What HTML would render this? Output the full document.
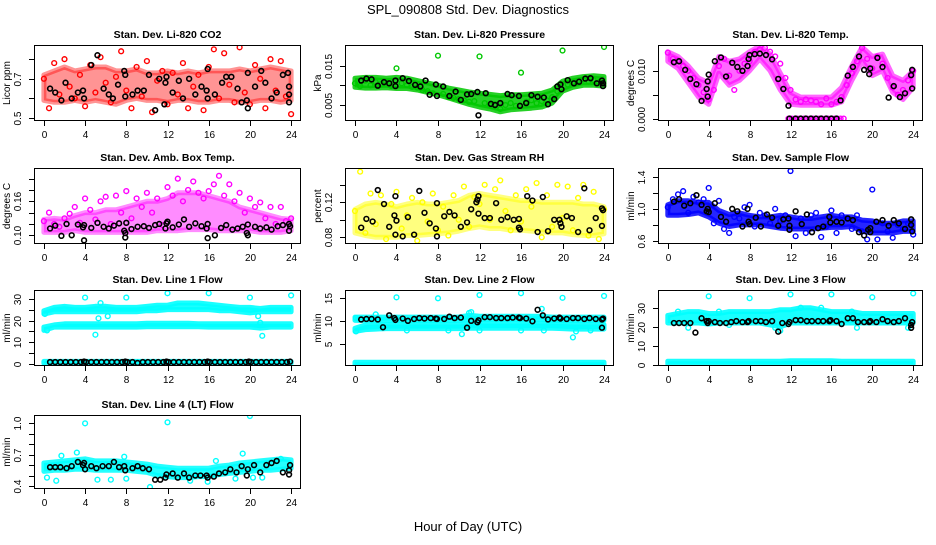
<!DOCTYPE html>
<html><head><meta charset="utf-8">
<style>
html,body{margin:0;padding:0;background:#fff;}
svg text{font-family:"Liberation Sans",sans-serif;fill:#000;}
</style></head>
<body>
<svg id="chart" width="936" height="540" viewBox="0 0 936 540" xmlns="http://www.w3.org/2000/svg">
<rect x="0" y="0" width="936" height="540" fill="#fff"/>
<text x="468" y="14" font-size="13" text-anchor="middle">SPL_090808  Std. Dev. Diagnostics</text>
<text x="468" y="531" font-size="13" text-anchor="middle">Hour of Day (UTC)</text>
</svg>
<script>
// ---------- data ----------
const xTicks = [0,4,8,12,16,20,24];
const xTickLabels = ["0","4","8","12","16","20","24"];
const hours = [0,1,2,3,4,5,6,7,8,9,10,11,12,13,14,15,16,17,18,19,20,21,22,23,24];

// Panel 1: CO2
const co2Lo = [0.59,0.58,0.58,0.59,0.58,0.59,0.58,0.57,0.59,0.60,0.59,0.59,0.58,0.59,0.59,0.58,0.58,0.59,0.59,0.58,0.58,0.59,0.59,0.58,0.59];
const co2Hi = [0.72,0.74,0.76,0.74,0.75,0.76,0.76,0.74,0.74,0.75,0.73,0.73,0.74,0.73,0.74,0.73,0.74,0.74,0.74,0.75,0.74,0.75,0.76,0.75,0.74];
const co2Pts = [0.70,0.55,0.78,0.62,0.80,0.66,0.60,0.72,0.56,0.77,0.63,0.81,0.68,0.58,0.71,0.84,0.64,0.55,0.76,0.61,0.79,0.53,0.69,0.74,0.57,0.73,0.62,0.78,0.55,0.66,0.72,0.54,0.76,0.85,0.60,0.83,0.67,0.58,0.86,0.63,0.57,0.77,0.70,0.55,0.80,0.64,0.79,0.61,0.52];
const co2BX = [0.6,1.1,1.7,2.1,2.7,3.3,3.8,3.9,4.6,5.2,5.8,6.3,6.7,7.2,7.8,7.9,7.9,8.6,9.1,9.7,10.2,10.8,11.2,11.7,11.8,11.9,12.5,13.1,13.5,14.1,14.7,15.3,15.8,15.9,15.9,16.6,17.3,17.7,18.2,18.8,19.2,19.7,19.8,19.8,20.5,21.1,21.5,22.1,22.6,23.2,23.7,23.8,23.8,23.8];
const co2BY = [0.65,0.63,0.59,0.68,0.60,0.63,0.64,0.60,0.77,0.82,0.65,0.62,0.60,0.67,0.74,0.72,0.61,0.62,0.64,0.64,0.72,0.54,0.70,0.57,0.68,0.71,0.63,0.69,0.60,0.70,0.62,0.66,0.64,0.60,0.75,0.62,0.68,0.71,0.71,0.65,0.58,0.59,0.73,0.55,0.66,0.74,0.68,0.60,0.63,0.72,0.73,0.66,0.62,0.58];

// Panel 2: Pressure
const presLo = [0.0095,0.0093,0.0093,0.0094,0.0092,0.0092,0.0088,0.0082,0.0076,0.0068,0.0060,0.0052,0.0045,0.0040,0.0033,0.0038,0.0040,0.0042,0.0045,0.0055,0.0085,0.0095,0.0100,0.0100,0.0098];
const presHi = [0.0118,0.0120,0.0120,0.0118,0.0120,0.0118,0.0112,0.0106,0.0100,0.0093,0.0088,0.0083,0.0080,0.0077,0.0074,0.0076,0.0076,0.0078,0.0080,0.0088,0.0110,0.0118,0.0122,0.0124,0.0122];
const presPts = [0.0105,0.0098,0.0112,0.0100,0.0108,0.0103,0.0110,0.0098,0.0143,0.0105,0.0100,0.0096,0.0094,0.0088,0.0085,0.0080,0.0175,0.0078,0.0070,0.0068,0.0065,0.0062,0.0058,0.0060,0.0173,0.0055,0.0050,0.0052,0.0040,0.0050,0.0055,0.0048,0.0132,0.0058,0.0062,0.0055,0.0060,0.0062,0.0070,0.0085,0.0188,0.0102,0.0108,0.0112,0.0115,0.0110,0.0113,0.0108,0.0197];
const presBX = [0.6,1.1,1.6,2.2,2.8,3.3,3.9,3.9,4.6,5.2,5.8,6.3,6.8,7.2,7.8,7.9,8.5,9.1,9.7,10.2,10.8,11.2,11.8,11.9,12.6,13.1,13.5,14.0,14.7,15.1,15.8,15.9,16.5,17.0,17.6,18.2,18.6,19.2,19.5,19.8,19.9,20.5,21.1,21.6,22.2,22.7,23.3,23.8,23.9,23.9];
const presBY = [0.0112,0.0117,0.0115,0.0099,0.0108,0.0105,0.0112,0.0098,0.0118,0.0111,0.0101,0.0097,0.0112,0.0076,0.0102,0.0073,0.0097,0.0073,0.0084,0.0063,0.0077,0.0078,0.0083,0.0024,0.0080,0.0053,0.0050,0.0055,0.0078,0.0075,0.0073,0.0048,0.0055,0.0075,0.0071,0.0069,0.0052,0.0065,0.0097,0.0102,0.0090,0.0113,0.0105,0.0109,0.0117,0.0118,0.0105,0.0112,0.0098,0.0105];

// Panel 3: Li-820 Temp
const tempLo = [0.0120,0.0105,0.0075,0.0045,0.0030,0.0095,0.0070,0.0080,0.0100,0.0125,0.0100,0.0060,0.0030,0.0028,0.0028,0.0028,0.0028,0.0035,0.0080,0.0120,0.0090,0.0100,0.0055,0.0040,0.0065];
const tempHi = [0.0140,0.0130,0.0110,0.0085,0.0075,0.0130,0.0120,0.0125,0.0140,0.0152,0.0135,0.0095,0.0055,0.0045,0.0045,0.0045,0.0045,0.0065,0.0110,0.0150,0.0130,0.0135,0.0090,0.0080,0.0100];
const tempPts = [0.0138,0.0125,0.0122,0.0110,0.0100,0.0085,0.0070,0.0055,0.0040,0.0060,0.0110,0.0125,0.0090,0.0060,0.0100,0.0115,0.0120,0.0140,0.0145,0.0148,0.0140,0.0130,0.0115,0.0085,0.0060,0.0040,0.0035,0.0040,0.0038,0.0035,0.0030,0.0042,0.0030,0.0035,0.0045,0.0070,0.0095,0.0120,0.0148,0.0125,0.0105,0.0130,0.0115,0.0085,0.0065,0.0050,0.0060,0.0080,0.0100];
const tempZeroX = [11.8,12.1,12.4,12.7,13.0,13.3,13.6,13.9,14.2,14.5,14.8,15.1,15.4,15.7,16.0,16.3,16.6,16.9,17.2];
const tempZeroY = [0,0,0,0,0,0,0,0,0,0,0,0,0,0,0,0,0,0,0];
const tempBX = [0.6,1.1,1.7,2.2,2.8,3.3,3.8,3.9,3.9,4.0,4.6,5.2,5.7,6.3,6.8,7.3,7.8,7.9,8.0,8.5,9.0,9.6,10.2,10.8,11.3,11.8,11.9,12.5,13,13.5,14,14.5,15,15.5,16,16.5,16.9,17.6,18.1,18.7,19.2,19.7,19.8,20.5,21.0,21.6,22.1,22.7,23.2,23.8,23.9,23.9];
const tempBY = [0.0118,0.0120,0.0102,0.0083,0.0072,0.0037,0.0062,0.0078,0.0046,0.0092,0.0120,0.0128,0.0088,0.0117,0.0108,0.0100,0.0110,0.0125,0.0133,0.0135,0.0136,0.0133,0.0124,0.0083,0.0062,0.0027,0,0,0,0,0,0,0,0,0,0,0.0038,0.0090,0.0108,0.0130,0.0102,0.0093,0.0105,0.0127,0.0108,0.0044,0.0068,0.0045,0.0053,0.0091,0.0102,0.0063];

// Panel 4: Amb. Box Temp
const ambLo = [0.105,0.105,0.105,0.108,0.105,0.105,0.105,0.105,0.105,0.105,0.105,0.108,0.108,0.108,0.110,0.110,0.110,0.108,0.108,0.108,0.108,0.105,0.105,0.105,0.108];
const ambHi = [0.128,0.130,0.128,0.135,0.140,0.140,0.145,0.145,0.150,0.155,0.160,0.160,0.165,0.175,0.175,0.175,0.170,0.165,0.160,0.150,0.145,0.140,0.135,0.130,0.128];
const ambPts = [0.125,0.140,0.120,0.115,0.130,0.138,0.150,0.122,0.165,0.145,0.128,0.160,0.168,0.120,0.170,0.140,0.178,0.130,0.165,0.150,0.175,0.140,0.165,0.118,0.185,0.170,0.200,0.160,0.180,0.195,0.175,0.165,0.178,0.190,0.205,0.170,0.190,0.160,0.175,0.140,0.165,0.150,0.158,0.130,0.150,0.120,0.150,0.125,0.130];
const ambBX = [0.6,1.1,1.7,2.2,2.7,3.3,3.8,3.9,3.9,4.6,5.2,5.8,6.3,6.8,7.3,7.8,7.9,7.9,8.0,8.5,9.1,9.7,10.2,10.8,11.2,11.8,11.9,12.0,12.5,13.1,13.6,14.1,14.7,15.3,15.8,15.9,15.9,16.6,17.2,17.7,18.3,18.8,19.3,19.7,19.8,19.8,20.5,21.0,21.6,22.1,22.7,23.2,23.8,23.8,23.9];
const ambBY = [0.112,0.117,0.099,0.120,0.100,0.119,0.114,0.091,0.118,0.113,0.122,0.115,0.112,0.117,0.121,0.108,0.096,0.104,0.122,0.111,0.115,0.116,0.113,0.118,0.120,0.112,0.121,0.124,0.114,0.119,0.128,0.115,0.121,0.116,0.112,0.095,0.120,0.100,0.113,0.118,0.110,0.112,0.115,0.104,0.100,0.119,0.115,0.112,0.114,0.110,0.116,0.118,0.120,0.108,0.116];

// Panel 5: Gas Stream RH
const rhLo = [0.085,0.082,0.080,0.080,0.080,0.082,0.082,0.083,0.084,0.085,0.087,0.090,0.092,0.090,0.090,0.088,0.088,0.087,0.086,0.085,0.085,0.083,0.082,0.082,0.084];
const rhHi = [0.112,0.118,0.120,0.118,0.115,0.118,0.120,0.118,0.118,0.120,0.122,0.128,0.130,0.128,0.126,0.124,0.122,0.122,0.120,0.120,0.120,0.120,0.118,0.118,0.115];
const rhPts = [0.110,0.155,0.085,0.130,0.095,0.128,0.078,0.118,0.132,0.090,0.105,0.125,0.076,0.120,0.098,0.130,0.088,0.115,0.082,0.128,0.100,0.138,0.092,0.126,0.118,0.140,0.100,0.135,0.145,0.110,0.088,0.128,0.098,0.135,0.115,0.142,0.080,0.128,0.092,0.140,0.102,0.138,0.088,0.125,0.140,0.082,0.132,0.078,0.112];
const rhBX = [0.6,1.1,1.7,2.2,2.8,3.3,3.8,3.9,3.9,4.0,4.6,5.1,5.7,6.2,6.7,7.2,7.8,7.9,7.9,8.6,9.1,9.6,10.2,10.8,11.2,11.7,11.8,11.9,11.9,12.5,13.0,13.6,14.1,14.7,15.3,15.8,15.8,15.9,16.6,17.1,17.6,18.1,18.6,19.2,19.7,19.8,19.9,20.4,20.9,21.5,22.1,22.6,23.2,23.8,23.8,23.9];
const rhBY = [0.091,0.101,0.098,0.134,0.118,0.092,0.105,0.127,0.083,0.099,0.081,0.103,0.083,0.133,0.108,0.096,0.090,0.081,0.119,0.104,0.109,0.105,0.092,0.097,0.112,0.120,0.123,0.127,0.107,0.102,0.102,0.119,0.100,0.103,0.100,0.101,0.091,0.089,0.127,0.122,0.086,0.126,0.087,0.100,0.100,0.096,0.092,0.104,0.102,0.086,0.136,0.088,0.102,0.113,0.093,0.111];

// Panel 6: Sample Flow
const sfLo = [0.92,0.92,0.93,0.95,0.90,0.82,0.78,0.80,0.80,0.80,0.78,0.76,0.75,0.75,0.75,0.76,0.77,0.77,0.78,0.72,0.70,0.70,0.70,0.72,0.72];
const sfHi = [1.05,1.10,1.10,1.08,1.08,0.98,0.93,0.95,0.92,0.90,0.90,0.92,0.90,0.88,0.88,0.90,0.92,0.90,0.90,0.86,0.85,0.82,0.82,0.85,0.85];
const sfPts = [1.02,1.12,1.18,1.22,0.95,1.15,1.08,1.12,1.26,0.82,1.10,0.75,0.70,0.90,0.88,1.02,1.05,0.78,0.95,0.92,0.82,1.00,0.85,0.92,1.47,0.66,0.88,0.70,0.92,0.95,0.65,0.78,0.98,0.70,0.92,0.88,0.75,0.92,0.72,0.62,1.24,0.62,0.82,0.72,0.64,0.80,0.75,0.82,0.68];
const sfBX = [0.6,1.1,1.6,2.2,2.8,3.3,3.8,3.9,4.0,4.6,5.2,5.7,6.3,6.8,7.3,7.8,7.9,8.0,8.6,9.1,9.7,10.2,10.8,11.3,11.8,11.9,11.9,12.5,13.1,13.6,14.1,14.7,15.2,15.8,15.9,16.5,17.0,17.6,18.1,18.7,19.2,19.6,19.8,19.8,20.4,21.0,21.6,22.1,22.6,23.2,23.8,23.8,23.9];
const sfBY = [1.09,1.12,1.04,1.07,1.17,1.05,0.97,1.00,0.96,1.07,0.90,0.84,1.00,0.97,0.78,1.00,0.84,0.81,0.89,0.78,0.93,0.89,0.79,0.87,0.88,0.79,0.74,0.97,0.81,0.93,0.71,0.76,0.78,0.90,0.83,0.84,0.83,0.88,0.86,0.71,0.67,0.74,0.71,0.76,0.84,0.86,0.79,0.86,0.82,0.75,0.87,0.80,0.72];

// Panel 7: Line 1 Flow
const l1UpLo = [23,24,24,24,24,24,24,24,24,24,24.5,24.5,25,25,25,25,25,24.5,24.5,24,23.5,24,24,24,24];
const l1UpHi = [24.5,26,26.5,26,26,26.5,26.5,26,26,26,26.5,27,27,28,28,28,27.5,27,26.5,26,26,25.5,26,26,26];
const l1MidLo = [15.5,17,17,17,17,17,17,17,17,17,17.2,17.2,17.2,17.2,17.2,17.2,17,17,17,17,17,16.5,17,17,17];
const l1MidHi = [17,18,18.5,18.5,18.5,18.5,18.5,18.5,18.5,18.5,18.8,18.8,18.8,18.8,18.8,18.5,18.5,18.5,18.5,18.5,18.5,18.5,18.5,18.5,18.5];
const l1ZeroLo = [0.4,0.4,0.4,0.4,0.4,0.4,0.4,0.4,0.4,0.4,0.4,0.4,0.4,0.4,0.4,0.4,0.4,0.4,0.4,0.4,0.4,0.4,0.4,0.4,0.4];
const l1ZeroHi = [1.3,1.3,1.3,1.3,1.3,1.3,1.3,1.3,1.3,1.3,1.3,1.3,1.3,1.3,1.3,1.3,1.3,1.3,1.3,1.3,1.3,1.3,1.3,1.3,1.3];
const l1PX = [4,5,5.3,5.5,6.2,8,12,16,20,20.8,21,21.2,24,0.1,0.3];
const l1PY = [30.5,13.5,21,28,22,30.5,32.5,32.5,30.5,22,19,13,31.5,23,15.5];
const l1BX = [0.6,1.1,1.6,2.1,2.6,3.1,3.6,3.9,4.1,4.6,5.1,5.6,6.1,6.6,7.1,7.6,7.9,8.1,8.6,9.1,9.6,10.1,10.6,11.1,11.6,11.9,12.1,12.6,13.1,13.6,14.1,14.6,15.1,15.6,15.9,16.1,16.6,17.1,17.6,18.1,18.6,19.1,19.6,19.9,20.1,20.6,21.1,21.6,22.1,22.6,23.1,23.6,23.9];
const l1BY = [1.0,1.0,1.0,1.0,1.0,1.0,1.0,1.2,1.0,1.0,1.0,1.0,1.0,1.0,1.0,1.0,1.2,1.0,1.0,0.6,1.0,1.0,1.0,1.0,1.0,1.2,1.0,1.0,1.0,1.0,1.0,1.0,1.0,1.0,1.2,1.0,1.0,1.0,1.0,1.0,1.0,1.0,1.0,1.2,1.0,1.0,1.0,1.0,1.0,1.0,1.0,1.0,1.2];

// Panel 8: Line 2 Flow
const l2LowLo = [7.8,8.2,8.3,8.4,8.4,8.4,8.4,8.4,8.4,8.4,8.4,8.5,8.5,8.5,8.5,8.5,8.5,8.5,8.5,8.5,8.4,8.3,8.3,8.3,8.3];
const l2LowHi = [8.5,9.2,9.3,9.3,9.3,9.3,9.3,9.3,9.3,9.3,9.3,9.5,9.5,9.5,9.5,9.5,9.5,9.5,9.5,9.5,9.4,9.3,9.3,9.3,9.3];
const l2UpLo = [10.2,10.2,10.2,10.2,10.2,10.2,10.2,10.2,10.2,10.2,10.2,10.4,10.4,10.4,10.4,10.4,10.4,10.4,10.4,10.2,10.2,10.2,10.2,10.2,10.2];
const l2UpHi = [10.9,10.9,10.9,10.9,10.9,10.9,10.9,10.9,10.9,10.9,10.9,11.3,11.1,11.1,11.1,11.1,11.1,11.1,11.1,10.9,10.9,10.9,10.9,10.9,10.9];
const l2ZeroLo = [0.4,0.4,0.4,0.4,0.4,0.4,0.4,0.4,0.4,0.4,0.4,0.4,0.4,0.4,0.4,0.4,0.4,0.4,0.4,0.4,0.4,0.4,0.4,0.4,0.4];
const l2ZeroHi = [1.1,1.1,1.1,1.1,1.1,1.1,1.1,1.1,1.1,1.1,1.1,1.1,1.1,1.1,1.1,1.1,1.1,1.1,1.1,1.1,1.1,1.1,1.1,1.1,1.1];
const l2PX = [4,8,12,16,20,24,10.3,11,11.2,21,21.3,18,2,0.1,0.1,5,9,12,16,18.2,22.7];
const l2PY = [15.2,15,15.7,16.1,15.1,15.5,7.2,11.8,12,6.5,7.8,12.7,11.5,10.7,7.8,8,8,8,8,8,8];
const l2BX = [0.6,1.1,1.6,2.2,2.7,3.3,3.8,3.9,4.6,5.1,5.7,6.2,6.7,7.3,7.8,7.9,8.6,9.1,9.6,10.2,10.8,11.2,11.8,11.9,12.5,13.0,13.6,14.1,14.7,15.2,15.8,15.9,16.5,17.1,17.6,18.1,18.6,19.2,19.7,19.8,20.4,21.0,21.5,22.1,22.6,23.2,23.8,23.8,23.9];
const l2BY = [10.4,10.5,10.5,10.4,8.7,11.3,10.7,10.3,10.6,10.1,10.5,10.7,10.6,10.7,10.6,10.5,10.5,11.0,10.7,10.8,8.6,10.1,9.8,10.2,10.9,10.9,10.7,10.7,10.7,10.8,10.8,10.7,10.6,10.0,12.5,11.3,10.4,10.6,10.8,10.6,10.5,10.7,10.7,10.5,10.7,10.5,8.6,10.4,10.6];

// Panel 9: Line 3 Flow
const l3Lo = [22,22,22,22,21.5,22,22,22,22,22,21,20,22,22,22,22,22,22,22,22,22,22,22,22,22];
const l3Hi = [26,27,28,28,27,27,28,28,28,28,28,29,29,30,30,29,28,28,28,27,27,27,27,27,27];
const l3ZeroLo = [0.6,0.6,0.6,0.6,0.6,0.6,0.6,0.6,0.6,0.6,0.6,0.6,0.6,0.6,0.6,0.6,0.6,0.6,0.6,0.6,0.6,0.6,0.6,0.6,0.6];
const l3ZeroHi = [2,2,2,2,2,2,2,2,2,2,2,2,2.2,2.2,2.2,2.2,2.2,2,2,2,2,2,2,2,2];
const l3PX = [4,8,12,16,20,24,2,6,10.5,11,18.5,23.5,1,5,13,15,18];
const l3PY = [36,35,37,37,35.5,37.5,19.5,21,19.5,18,19.5,19.5,28,28,30,30,28];
const l3BX = [0.6,1.1,1.6,2.2,2.7,3.3,3.8,3.9,4.0,4.6,5.1,5.7,6.2,6.7,7.3,7.8,7.9,8.6,9.1,9.6,10.2,10.8,11.2,11.8,11.9,12.5,13.0,13.6,14.1,14.7,15.2,15.8,15.9,16.5,17.0,17.6,18.1,18.6,19.2,19.7,19.8,20.4,21.0,21.5,22.1,22.6,23.2,23.8,23.8,23.9];
const l3BY = [22,22,22,22,17,24.5,23,22,23,22.5,22,22,22.5,23,22.5,22.5,23,23,23,22.5,23,17.5,22,21.5,22.5,23.5,23.5,23,23,23,23,23,23.5,23,21.5,24.5,24.5,22.5,22.5,22.5,23,22.5,24,23,22.5,23,24.5,19.5,21,22.5];

// Panel 10: Line 4 (LT) Flow
const l4Lo = [0.54,0.55,0.55,0.56,0.56,0.55,0.55,0.55,0.55,0.54,0.53,0.50,0.49,0.48,0.48,0.49,0.49,0.51,0.52,0.53,0.54,0.55,0.55,0.56,0.57];
const l4Hi = [0.62,0.63,0.64,0.65,0.66,0.64,0.64,0.64,0.63,0.62,0.61,0.59,0.58,0.57,0.57,0.57,0.57,0.59,0.60,0.62,0.63,0.64,0.65,0.66,0.65];
const l4PX = [0.3,1.2,1.7,3.2,4,5.2,6.5,7.8,10.3,12,14.2,16.7,19.3,20,20.3,18.6,23,8,15.9,21.2];
const l4PY = [0.48,0.45,0.69,0.72,1.0,0.46,0.46,0.68,0.39,1.01,0.45,0.64,0.71,1.07,0.48,0.47,0.66,0.47,0.44,0.48];
const l4BX = [0.6,1.1,1.6,2.2,2.7,3.3,3.8,3.9,4.0,4.6,5.1,5.7,6.3,6.8,7.3,7.8,7.9,8.6,9.1,9.6,10.2,10.8,11.3,11.8,11.9,12.5,13.0,13.6,14.1,14.7,15.2,15.8,15.9,16.5,17.0,17.6,18.1,18.7,19.2,19.7,19.8,20.4,21.0,21.6,22.1,22.6,23.2,23.8,23.8,23.9];
const l4BY = [0.58,0.58,0.58,0.57,0.59,0.63,0.60,0.62,0.56,0.59,0.57,0.59,0.59,0.63,0.58,0.59,0.55,0.57,0.59,0.57,0.56,0.46,0.46,0.48,0.51,0.52,0.48,0.52,0.48,0.50,0.50,0.50,0.48,0.49,0.52,0.53,0.56,0.53,0.59,0.50,0.56,0.60,0.53,0.60,0.62,0.64,0.53,0.51,0.55,0.60];

// ---------- layout ----------
const cols = [[34,301],[345,614],[658,923]];
const rows = [[45,121],[168,244],[290,366],[415,489]];
const panels = [
 {id:'co2', title:'Stan. Dev. Li-820 CO2', ylab:'Licor ppm', c:0, r:0, y0:0.485, y1:0.872, yt:[0.5,0.6,0.7,0.8], yl:['0.5','','0.7',''], color:'#ff0000', op:0.42,
  bands:[[co2Lo,co2Hi]], pts:[[null,co2Pts]], bx:co2BX, by:co2BY},
 {id:'pressure', title:'Stan. Dev. Li-820 Pressure', ylab:'kPa', c:1, r:0, y0:0.00096, y1:0.0202, yt:[0.005,0.010,0.015], yl:['0.005','','0.015'], color:'#00c800', op:0.85,
  bands:[[presLo,presHi]], pts:[[null,presPts]], bx:presBX, by:presBY},
 {id:'li820-temp', title:'Stan. Dev. Li-820 Temp.', ylab:'degrees C', c:2, r:0, y0:-0.0005, y1:0.0154, yt:[0,0.005,0.010], yl:['0.000','','0.010'], color:'#ff00ff', op:0.6,
  bands:[[tempLo,tempHi]], pts:[[null,tempPts],[tempZeroX,tempZeroY]], bx:tempBX, by:tempBY},
 {id:'amb-box-temp', title:'Stan. Dev. Amb. Box Temp.', ylab:'degrees C', c:0, r:1, y0:0.0846, y1:0.2188, yt:[0.10,0.12,0.14,0.16,0.18,0.20], yl:['0.10','','','0.16','',''], color:'#ff00ff', op:0.45,
  bands:[[ambLo,ambHi]], pts:[[null,ambPts]], bx:ambBX, by:ambBY},
 {id:'gas-rh', title:'Stan. Dev. Gas Stream RH', ylab:'percent', c:1, r:1, y0:0.0723, y1:0.1592, yt:[0.08,0.10,0.12,0.14], yl:['0.08','','0.12',''], color:'#ffff00', op:0.5,
  bands:[[rhLo,rhHi]], pts:[[null,rhPts]], bx:rhBX, by:rhBY},
 {id:'sample-flow', title:'Stan. Dev. Sample Flow', ylab:'ml/min', c:2, r:1, y0:0.563, y1:1.508, yt:[0.6,0.8,1.0,1.2,1.4], yl:['0.6','','1.0','','1.4'], color:'#0000ff', op:0.85,
  bands:[[sfLo,sfHi]], pts:[[null,sfPts]], bx:sfBX, by:sfBY},
 {id:'line1-flow', title:'Stan. Dev. Line 1 Flow', ylab:'ml/min', c:0, r:2, y0:-0.8, y1:33.97, yt:[0,5,10,15,20,25,30], yl:['0','','10','','20','','30'], color:'#00ffff', op:0.9,
  bands:[[l1UpLo,l1UpHi],[l1MidLo,l1MidHi],[l1ZeroLo,l1ZeroHi]], pts:[[l1PX,l1PY]], bx:l1BX, by:l1BY},
 {id:'line2-flow', title:'Stan. Dev. Line 2 Flow', ylab:'ml/min', c:1, r:2, y0:0.28, y1:16.8, yt:[5,10,15], yl:['5','10','15'], color:'#00ffff', op:0.9,
  bands:[[l2LowLo,l2LowHi],[l2UpLo,l2UpHi],[l2ZeroLo,l2ZeroHi]], pts:[[l2PX,l2PY]], bx:l2BX, by:l2BY},
 {id:'line3-flow', title:'Stan. Dev. Line 3 Flow', ylab:'ml/min', c:2, r:2, y0:-0.5, y1:39.3, yt:[0,10,20,30], yl:['0','10','20','30'], color:'#00ffff', op:0.9,
  bands:[[l3Lo,l3Hi],[l3ZeroLo,l3ZeroHi]], pts:[[l3PX,l3PY]], bx:l3BX, by:l3BY},
 {id:'line4-flow', title:'Stan. Dev. Line 4 (LT) Flow', ylab:'ml/min', c:0, r:3, y0:0.371, y1:1.08, yt:[0.4,0.5,0.6,0.7,0.8,0.9,1.0], yl:['0.4','','','0.7','','','1.0'], color:'#00ffff', op:0.85,
  bands:[[l4Lo,l4Hi]], pts:[[l4PX,l4PY]], bx:l4BX, by:l4BY}
];

const NS = 'http://www.w3.org/2000/svg';
const svg = document.getElementById('chart');
function mk(tag, attrs, parent){
  const e = document.createElementNS(NS, tag);
  for (const k in attrs) e.setAttribute(k, attrs[k]);
  parent.appendChild(e);
  return e;
}
const X0 = -0.96, X1 = 24.96;

panels.forEach(p => {
  const [L,R] = cols[p.c], [T,B] = rows[p.r];
  const sx = v => L + (v - X0) / (X1 - X0) * (R - L);
  const sy = v => B - (v - p.y0) / (p.y1 - p.y0) * (B - T);
  const g = mk('g', {}, svg);
  
  
  const clipId = 'clip-' + p.id;
  const cp = mk('clipPath', {id: clipId}, g);
  mk('rect', {x:L, y:T, width:R-L, height:B-T}, cp);
  const plot = mk('g', {'clip-path': 'url(#' + clipId + ')'}, g);
  
  
  p.bands.forEach(([lo, hi], bi) => {
    let d = '';
    hours.forEach((h, i) => { d += (i ? 'L' : 'M') + sx(h).toFixed(1) + ',' + sy(hi[i]).toFixed(1); });
    for (let i = hours.length - 1; i >= 0; i--) d += 'L' + sx(hours[i]).toFixed(1) + ',' + sy(lo[i]).toFixed(1);
    d += 'Z';
    const band = mk('path', {d: d, fill: p.color, stroke: p.color, 'stroke-width': 5, 'stroke-linejoin': 'round', 'fill-opacity': p.op, 'stroke-opacity': p.op}, plot);
    
    
  });
  p.pts.forEach(([xs, ys]) => {
    ys.forEach((v, i) => {
      const xv = xs ? xs[i] : i * 0.5;
      const c = mk('circle', {cx: sx(xv), cy: sy(v), r: 2.4, fill: 'none', stroke: p.color, 'stroke-width': 1.4}, plot);
      
      
    });
  });
  p.by.forEach((v, i) => {
    const c = mk('circle', {cx: sx(p.bx[i]), cy: sy(v), r: 2.4, fill: 'none', stroke: '#000', 'stroke-width': 1.6}, plot);
    
    
  });
  const fr = mk('rect', {x: L + 0.5, y: T + 0.5, width: R - L - 1, height: B - T - 1, fill: 'none', stroke: '#000', 'stroke-width': 1}, g);
  
  
  const tt = mk('text', {x: (L + R) / 2, y: T - 7, 'font-size': 10.5, 'font-weight': 'bold', 'text-anchor': 'middle'}, g);
  tt.textContent = p.title;
  
  
  const xa = mk('g', {}, g);
  
  
  xTicks.forEach((t, i) => {
    const x = Math.round(sx(t)) + 0.5;
    mk('line', {x1: x, x2: x, y1: B, y2: B + 5, stroke: '#000', 'stroke-width': 1}, xa);
    const lb = mk('text', {x: x, y: B + 17, 'font-size': 10, 'text-anchor': 'middle'}, xa);
    lb.textContent = xTickLabels[i];
    
    
  });
  const ya = mk('g', {}, g);
  
  
  p.yt.forEach((t, i) => {
    const y = Math.round(sy(t)) + 0.5;
    mk('line', {x1: L - 5, x2: L, y1: y, y2: y, stroke: '#000', 'stroke-width': 1}, ya);
    if (p.yl[i]) {
      const tx = L - 13;
      const lb = mk('text', {x: tx, y: y, 'font-size': 10, 'text-anchor': 'middle', transform: 'rotate(-90 ' + tx + ' ' + y + ')'}, ya);
      lb.textContent = p.yl[i];
      
      
    }
  });
  const lx = L - 24, ly = (T + B) / 2;
  const yt = mk('text', {x: lx, y: ly, 'font-size': 10, 'text-anchor': 'middle', transform: 'rotate(-90 ' + lx + ' ' + ly + ')'}, g);
  yt.textContent = p.ylab;
  
  
});
</script>
</body></html>
